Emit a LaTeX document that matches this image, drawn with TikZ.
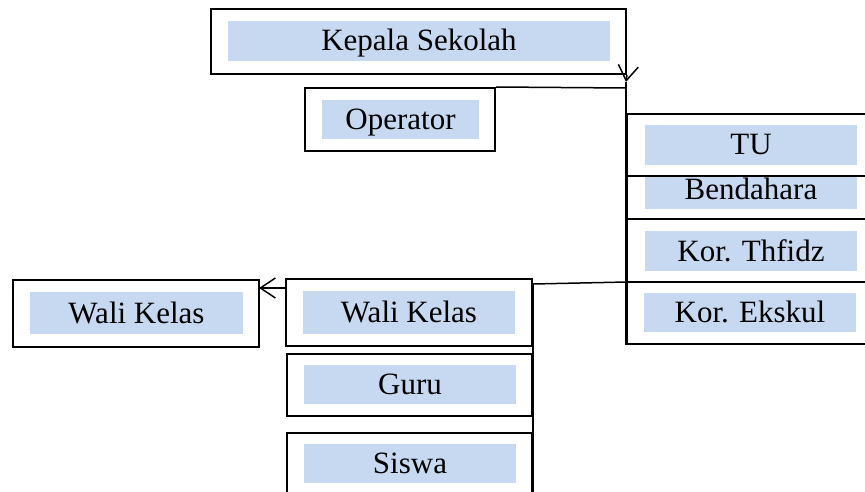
\documentclass[tikz,border=0pt]{standalone}
\usepackage{fontspec}
\setmainfont{Liberation Serif}
\usetikzlibrary{arrows.meta}
\definecolor{boxblue}{RGB}{198,217,240}
\tikzset{
  outerbox/.style={draw=black, line width=2pt, fill=white, inner sep=0pt},
  bluebox/.style={fill=boxblue, draw=none, inner sep=0pt, text height=20pt, text depth=0pt,
    font=\fontsize{31}{36}\selectfont},
  conn/.style={draw=black, line width=1.5pt},
  openhead/.style={-{Straight Barb[length=15pt,width=20pt,line width=1.5pt]}}
}
\begin{document}
\begin{tikzpicture}[x=1pt,y=-1pt]
\useasboundingbox (0,0) rectangle (865,492);
% Kepala Sekolah
\node[outerbox, minimum width=415, minimum height=65] (ks) at (418.5,41.5) {};
\node[bluebox, minimum width=382, minimum height=40] (ksb) at (419,41) {Kepala Sekolah};
% Operator
\node[outerbox, minimum width=190, minimum height=63] (op) at (400,119.5) {};
\node[bluebox, minimum width=157, minimum height=39] (opb) at (400.5,119.5) {Operator};
% right stack
\node[outerbox, minimum width=253, minimum height=62] (ek) at (753.5,313) {};
\node[bluebox, minimum width=212, minimum height=39] (ekb) at (750,312.5) {Kor. Ekskul};
\node[outerbox, minimum width=253, minimum height=63] (th) at (753.5,250.5) {};
\node[bluebox, minimum width=212, minimum height=40] (thb) at (751,251) {Kor. Thfidz};
\node[outerbox, minimum width=253, minimum height=43] (bd) at (753.5,197.5) {};
\node[bluebox, minimum width=212, minimum height=40] (bdb) at (751,189) {Bendahara};
\node[outerbox, minimum width=253, minimum height=62] (tu) at (753.5,145) {};
\node[bluebox, minimum width=212, minimum height=40] (tub) at (751,145) {TU};
% Wali Kelas left
\node[outerbox, minimum width=246, minimum height=67] (wk1) at (136,313.5) {};
\node[bluebox, minimum width=213, minimum height=42] (wk1b) at (136.5,313) {Wali Kelas};
% Wali Kelas mid
\node[outerbox, minimum width=246, minimum height=67] (wk2) at (409,312.5) {};
\node[bluebox, minimum width=212, minimum height=43] (wk2b) at (409,312.5) {Wali Kelas};
% Guru
\node[outerbox, minimum width=245, minimum height=62] (gu) at (409.5,385) {};
\node[bluebox, minimum width=212, minimum height=39] (gub) at (410,384.5) {Guru};
% Siswa
\node[outerbox, minimum width=245, minimum height=77] (si) at (409.5,471.5) {};
\node[bluebox, minimum width=212, minimum height=39] (sib) at (410,463.5) {Siswa};
% connector coordinates
\coordinate (kstip) at (626,82);
\coordinate (opend) at (626,88);
\coordinate (wkr) at (533,284);
\coordinate (stk) at (627,282);
\coordinate (wkl) at (286,288);
\coordinate (wk1r) at (259,288);
\coordinate (bottomend) at (533,495);
% connectors
\draw[conn, openhead] (ks.south east) -- (kstip);
\draw[conn] (kstip) -- (ek.south west);
\draw[conn] (op.north east) -- (opend);
\draw[conn] (wkr) -- (stk);
\draw[conn, openhead] (wkl) -- (wk1r);
\draw[conn] (wkr) -- (bottomend);
\end{tikzpicture}
\end{document}
